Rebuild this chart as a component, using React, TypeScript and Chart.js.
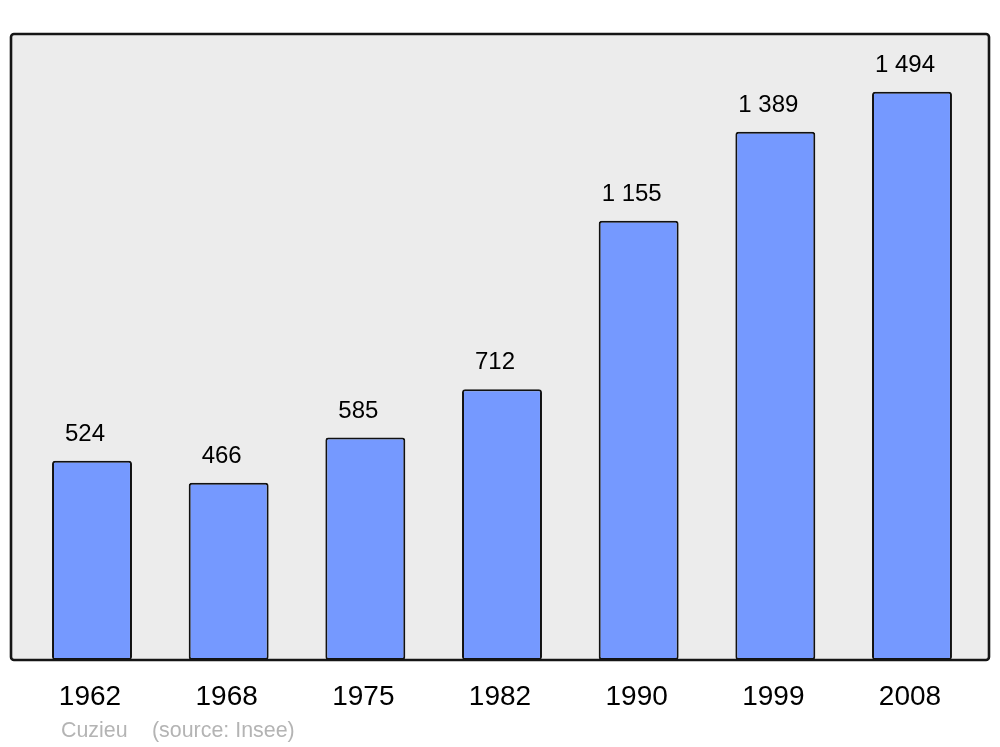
import React, { useEffect, useRef } from "react";
import { Chart, registerables } from "chart.js";

Chart.register(...registerables);

const years = ["1962", "1968", "1975", "1982", "1990", "1999", "2008"];
const population = [524, 466, 585, 712, 1155, 1389, 1494];
const valueLabels = ["524", "466", "585", "712", "1 155", "1 389", "1 494"];
const townName = "Cuzieu";
const sourceText = "(source: Insee)";

const FONT = "'Liberation Sans', Arial, sans-serif";

function roundRect(ctx: CanvasRenderingContext2D, x: number, y: number, w: number, h: number, r: number) {
  ctx.beginPath();
  ctx.moveTo(x + r, y);
  ctx.lineTo(x + w - r, y);
  ctx.arcTo(x + w, y, x + w, y + r, r);
  ctx.lineTo(x + w, y + h - r);
  ctx.arcTo(x + w, y + h, x + w - r, y + h, r);
  ctx.lineTo(x + r, y + h);
  ctx.arcTo(x, y + h, x, y + h - r, r);
  ctx.lineTo(x, y + r);
  ctx.arcTo(x, y, x + r, y, r);
  ctx.closePath();
}

const panelPlugin = {
  id: "panel",
  beforeDatasetsDraw(chart: any) {
    const { ctx, chartArea } = chart;
    ctx.save();
    roundRect(ctx, 11, chartArea.top, 978, chartArea.bottom - chartArea.top, 3);
    ctx.fillStyle = "#ececec";
    ctx.fill();
    ctx.restore();
  },
  afterDatasetsDraw(chart: any) {
    const { ctx, chartArea } = chart;
    ctx.save();
    roundRect(ctx, 11, chartArea.top, 978, chartArea.bottom - chartArea.top, 3);
    ctx.lineWidth = 2.6;
    ctx.strokeStyle = "#151515";
    ctx.stroke();

    const meta = chart.getDatasetMeta(0);
    const xScale = chart.scales.x;
    ctx.fillStyle = "#000";
    ctx.textAlign = "center";
    ctx.textBaseline = "alphabetic";
    ctx.font = `24px ${FONT}`;
    meta.data.forEach((bar: any, i: number) => {
      ctx.fillText(valueLabels[i], bar.x - 7, bar.y - 20);
    });
    ctx.font = `28px ${FONT}`;
    years.forEach((y, i) => {
      ctx.fillText(y, xScale.getPixelForValue(i) - 2, 705);
    });
    ctx.fillStyle = "#b4b4b4";
    ctx.textAlign = "left";
    ctx.font = `21.4px ${FONT}`;
    ctx.fillText(townName, 61, 737);
    ctx.fillText(sourceText, 152, 737);
    ctx.restore();
  },
};

export default function App() {
  const ref = useRef<HTMLCanvasElement>(null);
  useEffect(() => {
    if (!ref.current) return;
    const chart = new Chart(ref.current, {
      type: "bar",
      data: {
        labels: years,
        datasets: [
          {
            data: population,
            backgroundColor: "#7599ff",
            borderColor: "#111",
            borderWidth: 2,
            borderRadius: 3,
            borderSkipped: false,
            categoryPercentage: 1,
            barPercentage: 0.585,
          },
        ],
      },
      options: {
        animation: false,
        responsive: false,
        maintainAspectRatio: false,
        layout: { padding: { left: 23.67, right: 19.67, top: 34, bottom: 87 } },
        plugins: { legend: { display: false }, tooltip: { enabled: false } },
        scales: {
          x: { display: false, offset: true },
          y: { display: false, min: 0, max: 1646 },
        },
      },
      plugins: [panelPlugin],
    });
    return () => chart.destroy();
  }, []);
  return (
    <div style={{ position: "fixed", left: 0, top: 0, width: 1000, height: 747, background: "#fff" }}>
      <canvas ref={ref} width={1000} height={747} style={{ display: "block", width: 1000, height: 747 }} />
    </div>
  );
}
